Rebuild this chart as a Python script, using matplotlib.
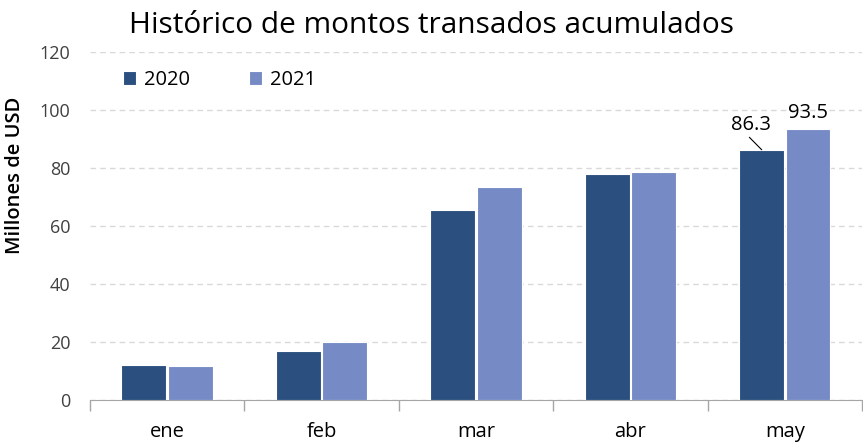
import numpy as np
import matplotlib.pyplot as plt

plt.rcParams['font.family'] = ['Open Sans', 'DejaVu Sans']

meses = ['ene', 'feb', 'mar', 'abr', 'may']
montos_2020 = [12.1, 16.9, 65.6, 77.8, 86.3]
montos_2021 = [11.9, 20.1, 73.5, 78.8, 93.5]

c2020 = '#2b4f7e'
c2021 = '#768bc5'

fig = plt.figure(figsize=(8.63, 4.45), dpi=100)
ax = fig.add_axes([0.104, 0.101, 0.895, 0.782])

x = np.arange(len(meses))
w = 0.29
b1 = ax.bar(x - w / 2 - 0.005, montos_2020, w, color=c2020, edgecolor='white',
            linewidth=0.8, label='2020', zorder=3)
b2 = ax.bar(x + w / 2 + 0.005, montos_2021, w, color=c2021, edgecolor='white',
            linewidth=0.8, label='2021', zorder=3)

ax.set_xlim(-0.5, len(meses) - 0.5)
ax.set_ylim(0, 120)
ax.set_yticks(np.arange(0, 121, 20))
ax.yaxis.grid(True, color='#d9d9d9', linestyle=(0, (4, 3)), linewidth=1)
ax.set_axisbelow(True)

ax.set_xticks(x)
ax.set_xticklabels(meses, fontsize=14.5)
ax.set_xticks(np.arange(-0.5, len(meses)), minor=True)
ax.tick_params(axis='x', which='major', length=0, pad=16)
ax.tick_params(axis='x', which='minor', length=8, color='#a6a6a6', width=1)
ax.tick_params(axis='y', length=0, labelsize=13, labelcolor='#404040', pad=14)

for d in ['left', 'top', 'right']:
    ax.spines[d].set_visible(False)
ax.spines['bottom'].set_color('#a6a6a6')

ax.set_ylabel('Millones de USD', fontsize=14.5, fontweight='semibold')
ax.yaxis.set_label_coords(-0.084, 0.647)
fig.suptitle('Histórico de montos transados acumulados', fontsize=21.5, y=0.975,
             fontweight='medium')

# etiquetas de mayo
i = len(meses) - 1
ax.annotate(f'{montos_2020[i]:.1f}', xy=(x[i] - w / 2 - 0.005, montos_2020[i]),
            xytext=(-8, 11), textcoords='offset points', ha='center', va='bottom',
            fontsize=14.5, arrowprops=dict(arrowstyle='-', color='black', lw=0.8,
                                           relpos=(0.4, 0), shrinkA=0, shrinkB=0))
ax.annotate(f'{montos_2021[i]:.1f}', xy=(x[i] + w / 2 + 0.005, montos_2021[i]),
            xytext=(0, 4), textcoords='offset points', ha='center', va='bottom',
            fontsize=14.5)

ax.legend(loc='upper left', ncol=2, frameon=False, fontsize=14.5,
          handlelength=0.65, handleheight=0.65, handletextpad=0.4,
          columnspacing=2.9, bbox_to_anchor=(0.02, 1.0))

plt.savefig('out.png')
